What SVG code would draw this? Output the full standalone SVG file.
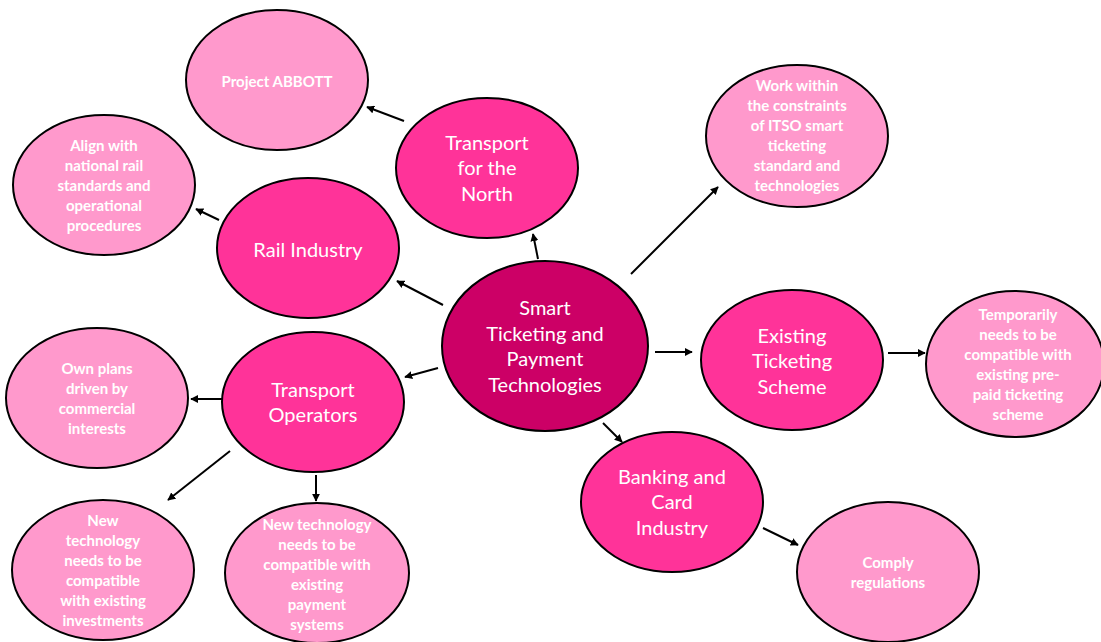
<svg xmlns="http://www.w3.org/2000/svg" width="1101" height="642" viewBox="0 0 1101 642">
<defs>
<marker id="ah" viewBox="0 0 10 10" refX="9" refY="5" markerWidth="4" markerHeight="4" orient="auto" markerUnits="strokeWidth">
<path d="M0,0 L10,5 L0,10 z" fill="#000"/>
</marker>
<style>
ellipse{stroke:#000;stroke-width:2}
.c{fill:#CC0066}
.m{fill:#FF3399}
.l{fill:#FF99CC}
text{fill:#fff;text-anchor:middle;font-family:Lato,"Open Sans","Liberation Sans",sans-serif}
.big{font-size:20px}
.sm{font-size:15px;font-weight:bold}
.con line{stroke:#000;stroke-width:2;marker-end:url(#ah)}
</style>
</defs>
<rect width="1101" height="642" fill="#fff"/>
<g class="con" id="connectors">
<line x1="404" y1="121" x2="367" y2="107"/>
<line x1="538" y1="259" x2="533" y2="234"/>
<line x1="219" y1="220" x2="196" y2="209"/>
<line x1="443" y1="305" x2="397" y2="281"/>
<line x1="631" y1="274" x2="718" y2="187"/>
<line x1="655" y1="352" x2="692" y2="352"/>
<line x1="888" y1="353" x2="925" y2="353"/>
<line x1="438" y1="368" x2="405" y2="377"/>
<line x1="222" y1="399" x2="191" y2="399"/>
<line x1="230" y1="451" x2="168" y2="500"/>
<line x1="316" y1="475" x2="316" y2="501"/>
<line x1="603" y1="423" x2="622" y2="442"/>
<line x1="763" y1="528" x2="798" y2="545"/>
</g>
<g id="center">
<ellipse class="c" cx="545" cy="346" rx="103" ry="85"/>
<text class="big" x="545" y="315">Smart</text>
<text class="big" x="545" y="341">Ticketing and</text>
<text class="big" x="545" y="366">Payment</text>
<text class="big" x="545" y="392">Technologies</text>
</g>
<g id="tfn">
<ellipse class="m" cx="487" cy="168" rx="91" ry="70"/>
<text class="big" x="487" y="150">Transport</text>
<text class="big" x="487" y="175">for the</text>
<text class="big" x="487" y="201">North</text>
</g>
<g id="abbott">
<ellipse class="l" cx="277" cy="80" rx="91" ry="70"/>
<text class="sm" x="277" y="87">Project ABBOTT</text>
</g>
<g id="rail">
<ellipse class="m" cx="308" cy="248" rx="91" ry="70"/>
<text class="big" x="308" y="257">Rail Industry</text>
</g>
<g id="align">
<ellipse class="l" cx="104" cy="185" rx="91" ry="70"/>
<text class="sm" x="104" y="151">Align with</text>
<text class="sm" x="104" y="171">national rail</text>
<text class="sm" x="104" y="191">standards and</text>
<text class="sm" x="104" y="211">operational</text>
<text class="sm" x="104" y="231">procedures</text>
</g>
<g id="work">
<ellipse class="l" cx="797" cy="136" rx="91" ry="71"/>
<text class="sm" x="797" y="91">Work within</text>
<text class="sm" x="797" y="111">the constraints</text>
<text class="sm" x="797" y="131">of ITSO smart</text>
<text class="sm" x="797" y="151">ticketing</text>
<text class="sm" x="797" y="171">standard and</text>
<text class="sm" x="797" y="191">technologies</text>
</g>
<g id="existing">
<ellipse class="m" cx="792" cy="360" rx="91" ry="70"/>
<text class="big" x="792" y="343">Existing</text>
<text class="big" x="792" y="368">Ticketing</text>
<text class="big" x="792" y="394">Scheme</text>
</g>
<g id="temporarily">
<ellipse class="l" cx="1015" cy="364" rx="89" ry="73"/>
<text class="sm" x="1018" y="320">Temporarily</text>
<text class="sm" x="1018" y="340">needs to be</text>
<text class="sm" x="1018" y="360">compatible with</text>
<text class="sm" x="1018" y="380">existing pre-</text>
<text class="sm" x="1018" y="400">paid ticketing</text>
<text class="sm" x="1018" y="420">scheme</text>
</g>
<g id="operators">
<ellipse class="m" cx="313" cy="402" rx="91" ry="70"/>
<text class="big" x="313" y="397">Transport</text>
<text class="big" x="313" y="422">Operators</text>
</g>
<g id="ownplans">
<ellipse class="l" cx="97" cy="398" rx="91" ry="70"/>
<text class="sm" x="97" y="374">Own plans</text>
<text class="sm" x="97" y="394">driven by</text>
<text class="sm" x="97" y="414">commercial</text>
<text class="sm" x="97" y="434">interests</text>
</g>
<g id="newtech1">
<ellipse class="l" cx="103" cy="570" rx="91" ry="70"/>
<text class="sm" x="103" y="526">New</text>
<text class="sm" x="103" y="546">technology</text>
<text class="sm" x="103" y="566">needs to be</text>
<text class="sm" x="103" y="586">compatible</text>
<text class="sm" x="103" y="606">with existing</text>
<text class="sm" x="103" y="626">investments</text>
</g>
<g id="newtech2">
<ellipse class="l" cx="317" cy="573" rx="92" ry="70"/>
<text class="sm" x="317" y="530">New technology</text>
<text class="sm" x="317" y="550">needs to be</text>
<text class="sm" x="317" y="570">compatible with</text>
<text class="sm" x="317" y="590">existing</text>
<text class="sm" x="317" y="610">payment</text>
<text class="sm" x="317" y="630">systems</text>
</g>
<g id="banking">
<ellipse class="m" cx="672" cy="502" rx="91" ry="70"/>
<text class="big" x="672" y="484">Banking and</text>
<text class="big" x="672" y="509">Card</text>
<text class="big" x="672" y="535">Industry</text>
</g>
<g id="comply">
<ellipse class="l" cx="888" cy="572" rx="91" ry="70"/>
<text class="sm" x="888" y="568">Comply</text>
<text class="sm" x="888" y="588">regulations</text>
</g>
</svg>
